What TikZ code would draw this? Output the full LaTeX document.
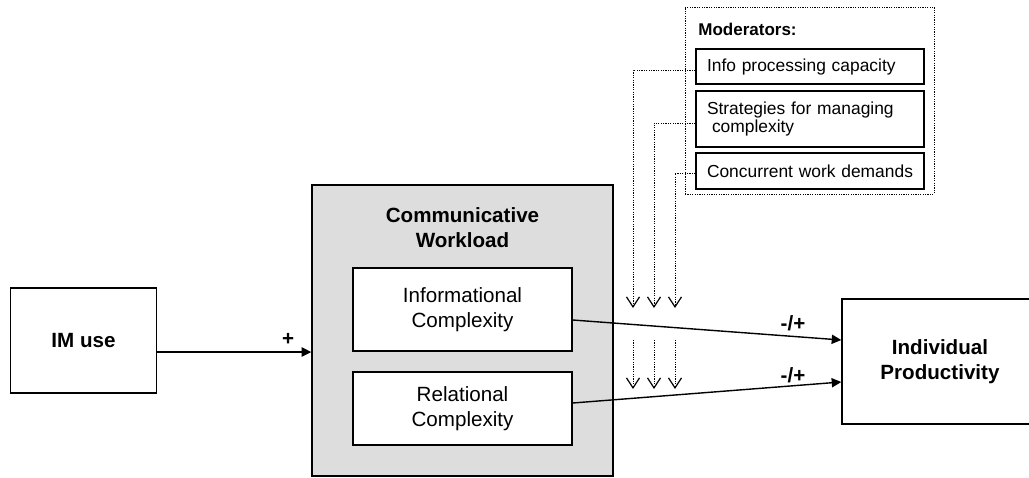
\documentclass[tikz,border=0pt]{standalone}
\usepackage{fontspec}
\setmainfont{Liberation Sans}
\usetikzlibrary{arrows.meta,calc}
\definecolor{boxgray}{RGB}{221,221,221}
\tikzset{
  box/.style={draw, line width=0.7pt, fill=white, inner sep=0pt, align=center},
  bigfont/.style={font=\fontsize{10.3}{12.5}\selectfont},
  boldbig/.style={font=\fontsize{10.3}{12.5}\selectfont\bfseries},
  smallfont/.style={font=\fontsize{8.7}{9}\selectfont},
  modbox/.style={draw, line width=0.6pt, fill=white, inner ysep=0pt, inner xsep=5.5pt,
    text width=103pt, align=left, smallfont},
  dotline/.style={line width=0.5pt, dash pattern=on 0.6pt off 0.6pt},
  arr/.style={line width=0.7pt, -{Triangle[length=4.8pt,width=4.6pt]}},
  darr/.style={dotline, -{Straight Barb[length=5pt,width=6.5pt,line width=0.6pt]}},
}
\begin{document}
\begin{tikzpicture}[x=0.5pt,y=-0.5pt]
\useasboundingbox (0,0) rectangle (1029,477);

% left box
\node[box, boldbig, minimum width=73pt, minimum height=52.5pt] (im) at (83.5,340.5) {IM use};

% communicative workload
\node[draw, line width=0.7pt, fill=boxgray, minimum width=150.5pt, minimum height=145.5pt, inner sep=0pt] (cw) at (462.5,330.5) {};
\node[boldbig, align=center, inner sep=0pt] (cwt) at (462.5,227.5) {Communicative\\Workload};
\node[box, bigfont, minimum width=109.5pt, minimum height=41.5pt] (info) at (462.5,309.5) {Informational\\Complexity};
\node[box, bigfont, minimum width=109.5pt, minimum height=36.5pt] (rel) at (462.5,408.5) {Relational\\Complexity};

% outcome (its right side runs past the picture's edge)
\node[box, boldbig, minimum width=98pt, minimum height=62.5pt] (ip) at (940,361.5) {Individual\\Productivity};

% moderators
\node[draw, dotline, minimum width=124.5pt, minimum height=93.5pt, inner sep=0pt] (mod) at (809.5,100.5) {};
\node[anchor=west, inner sep=0pt, font=\fontsize{8.5}{9}\selectfont\bfseries] (modt) at (698,29) {Moderators:};
\node[modbox, minimum height=17.5pt] (m1) at (810,66.5) {Info processing capacity};
\node[modbox, minimum height=28pt] (m2) at (810,119) {Strategies for managing\\\hspace*{2.5pt}complexity};
\node[modbox, minimum height=18pt] (m3) at (810,171) {Concurrent work demands};

% solid arrows
\draw[arr] ([yshift=-5.75pt]im.east) -- ([yshift=-10.75pt]cw.west)
  node[pos=0.85, above=3pt, boldbig, inner sep=0pt] (plus) {+};
\draw[arr] ([yshift=-5.25pt]info.east) -- ([yshift=10.75pt]ip.west);
\draw[arr] ([yshift=2.75pt]rel.east) -- ([yshift=-10.25pt]ip.west);
\node[boldbig, inner sep=0pt] (l1) at (793,323) {-/+};
\node[boldbig, inner sep=0pt] (l2) at (793,375) {-/+};

% dotted moderator connectors
\coordinate (a1) at (633,308);
\coordinate (a2) at (654,308);
\coordinate (a3) at (675,308);
\coordinate (b1s) at (633,340);
\coordinate (b2s) at (654,340);
\coordinate (b3s) at (675,340);
\coordinate (b1) at (633,389);
\coordinate (b2) at (654,389);
\coordinate (b3) at (675,389);
\draw[darr] ([yshift=-1.75pt]m1.west) -| (a1);
\draw[darr] ([yshift=-2pt]m2.west) -| (a2);
\draw[darr] ([yshift=-1pt]m3.west) -| (a3);
\draw[darr] (b1s) -- (b1);
\draw[darr] (b2s) -- (b2);
\draw[darr] (b3s) -- (b3);
\end{tikzpicture}
\end{document}
